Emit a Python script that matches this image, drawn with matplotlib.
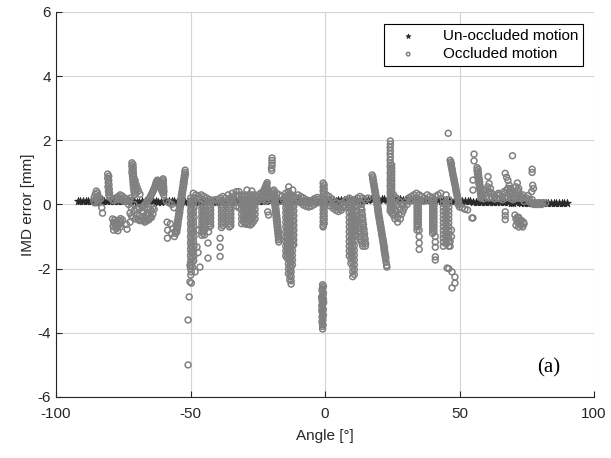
import matplotlib
matplotlib.use("Agg")
import matplotlib.pyplot as plt

plt.rcParams['font.family'] = ['Liberation Sans', 'DejaVu Sans']
plt.rcParams['axes.unicode_minus'] = False

# un-occluded motion, one sample per degree
unocc_angle = [-92, -91, -90, -89, -88, -87, -86, -85, -84, -83, -82, -81, -80,
               -79, -78, -77, -76, -75, -74, -73, -72, -71, -70, -69, -68, -67, -66, -65, -64, -63, -62, -61, -60,
               -59, -58, -57, -56, -55, -54, -53, -52, -51, -50, -49, -48, -47, -46, -45, -44, -43, -42, -41, -40,
               -39, -38, -37, -36, -35, -34, -33, -32, -31, -30, -29, -28, -27, -26, -25, -24, -23, -22, -21, -20,
               -19, -18, -17, -16, -15, -14, -13, -12, -11, -10, -9, -8, -7, -6, -5, -4, -3, -2, -1, 0,
               1, 2, 3, 4, 5, 6, 7, 8, 9, 10, 11, 12, 13, 14, 15, 16, 17, 18, 19, 20,
               21, 22, 23, 24, 25, 26, 27, 28, 29, 30, 31, 32, 33, 34, 35, 36, 37, 38, 39, 40,
               41, 42, 43, 44, 45, 46, 47, 48, 49, 50, 51, 52, 53, 54, 55, 56, 57, 58, 59, 60,
               61, 62, 63, 64, 65, 66, 67, 68, 69, 70, 71, 72, 73, 74, 75, 76, 77, 78, 79, 80,
               81, 82, 83, 84, 85, 86, 87, 88, 89, 90]
unocc_err = [0.12, 0.11, 0.11, 0.12, 0.12, 0.11, 0.10, 0.11, 0.11, 0.12, 0.12, 0.11, 0.10,
             0.11, 0.11, 0.10, 0.11, 0.12, 0.11, 0.11, 0.10, 0.10, 0.09, 0.09, 0.10, 0.10, 0.11, 0.11, 0.10, 0.10, 0.09, 0.09, 0.10,
             0.10, 0.11, 0.11, 0.10, 0.09, 0.09, 0.10, 0.09, 0.08, 0.09, 0.10, 0.10, 0.09, 0.10, 0.11, 0.11, 0.10, 0.10, 0.09, 0.09,
             0.10, 0.10, 0.11, 0.11, 0.12, 0.11, 0.10, 0.10, 0.11, 0.12, 0.13, 0.13, 0.12, 0.11, 0.11, 0.11, 0.12, 0.12, 0.13, 0.13,
             0.12, 0.12, 0.13, 0.13, 0.12, 0.12, 0.11, 0.11, 0.12, 0.11, 0.10, 0.10, 0.11, 0.11, 0.12, 0.12, 0.11, 0.10, 0.10, 0.10,
             0.11, 0.11, 0.12, 0.12, 0.13, 0.13, 0.14, 0.14, 0.13, 0.14, 0.15, 0.15, 0.14, 0.14, 0.15, 0.15, 0.16, 0.16, 0.15, 0.15,
             0.16, 0.16, 0.15, 0.16, 0.17, 0.17, 0.16, 0.16, 0.15, 0.15, 0.16, 0.16, 0.15, 0.15, 0.14, 0.14, 0.15, 0.15, 0.14, 0.14,
             0.13, 0.13, 0.12, 0.12, 0.13, 0.12, 0.11, 0.11, 0.10, 0.10, 0.11, 0.11, 0.10, 0.10, 0.09, 0.09, 0.08, 0.08, 0.09, 0.09,
             0.08, 0.08, 0.07, 0.07, 0.08, 0.08, 0.07, 0.07, 0.06, 0.06, 0.07, 0.07, 0.06, 0.06, 0.05, 0.05, 0.06, 0.06, 0.05, 0.05,
             0.05, 0.05, 0.04, 0.04, 0.05, 0.05, 0.04, 0.04, 0.04, 0.04]

# occluded motion (angle, error) split by angle range
occ_far_left = [
    (-86.0, 0.10), (-85.8, 0.22), (-85.4, 0.32), (-85.0, 0.42), (-84.6, 0.36), (-84.3, 0.26),
    (-84.0, 0.15), (-84.8, 0.12), (-83.4, 0.18), (-85.2, 0.18), (-84.4, 0.05), (-85.6, 0.05),
    (-83.0, -0.10), (-82.7, -0.27),
    (-80.8, 0.95), (-80.8, 0.82), (-80.6, 0.68), (-80.7, 0.55), (-80.5, 0.42), (-80.4, 0.30), (-80.0, 0.22),
    (-80.4, 0.88), (-80.4, 0.75), (-80.3, 0.62), (-80.2, 0.48), (-80.1, 0.36),
    (-79.0, 0.15), (-78.0, 0.20), (-77.0, 0.24), (-76.2, 0.30), (-75.5, 0.27), (-74.8, 0.22),
    (-74.0, 0.18), (-73.0, 0.14), (-72.4, 0.20), (-78.5, 0.12), (-77.5, 0.15), (-76.7, 0.18),
    (-75.8, 0.15), (-75.0, 0.12), (-74.4, 0.10), (-73.5, 0.10),
    (-71.8, 1.30), (-71.8, 1.20), (-71.7, 1.10), (-71.8, 1.00), (-71.6, 0.90), (-71.5, 0.80),
    (-71.4, 0.70), (-71.3, 0.60), (-71.2, 0.50), (-71.0, 0.40), (-70.8, 0.30), (-70.6, 0.75),
    (-70.2, 0.62), (-69.8, 0.52), (-69.3, 0.42), (-68.8, 0.32),
    (-71.4, 1.25), (-71.3, 1.15), (-71.3, 1.05), (-71.2, 0.95), (-71.1, 0.85), (-71.0, 0.75),
    (-70.9, 0.65), (-70.7, 0.55), (-70.5, 0.45), (-70.3, 0.35),
    (-79.0, -0.45), (-78.6, -0.56), (-78.2, -0.48), (-78.0, -0.66), (-77.6, -0.76), (-77.0, -0.82),
    (-77.0, -0.62), (-76.5, -0.50), (-76.0, -0.44), (-76.1, -0.70), (-75.3, -0.48), (-73.8, -0.62),
    (-73.6, -0.77), (-78.6, -0.80), (-78.3, -0.60), (-77.8, -0.55), (-77.3, -0.70), (-76.8, -0.60),
    (-76.4, -0.62), (-75.8, -0.55), (-78.8, -0.68),
    (-73.0, 0.00), (-72.0, -0.10), (-71.0, -0.20), (-70.0, -0.30), (-69.0, -0.36), (-68.0, -0.40),
    (-67.0, -0.43), (-66.0, -0.46), (-65.0, -0.40), (-64.0, -0.30), (-72.5, -0.27), (-72.5, -0.55),
    (-70.0, -0.14), (-68.0, -0.20), (-66.0, -0.26), (-65.0, -0.15), (-64.0, -0.10), (-67.0, -0.55),
    (-69.0, -0.50), (-71.5, -0.40), (-70.5, -0.45), (-69.5, -0.45), (-68.5, -0.50), (-67.5, -0.50),
    (-66.5, -0.52), (-65.5, -0.48), (-64.5, -0.40), (-72.0, -0.35), (-71.0, 0.00), (-69.0, -0.10),
    (-67.5, -0.25), (-66.5, -0.35), (-65.5, -0.30), (-64.5, -0.20), (-63.5, -0.15),
    (-68.0, -0.10), (-67.0, 0.00), (-66.0, 0.10), (-65.2, 0.20), (-64.6, 0.30), (-64.0, 0.40),
    (-63.5, 0.50), (-63.0, 0.60), (-62.7, 0.70), (-62.3, 0.76), (-61.8, 0.65), (-61.2, 0.52),
    (-60.6, 0.42), (-60.0, 0.30), (-67.5, -0.05), (-66.5, 0.05), (-65.6, 0.15), (-64.9, 0.25),
    (-64.3, 0.35), (-63.8, 0.45), (-63.3, 0.55), (-62.9, 0.65), (-62.5, 0.73), (-62.0, 0.70),
    (-61.5, 0.58), (-60.9, 0.47), (-60.3, 0.36),
    (-60.2, 0.80), (-60.2, 0.70), (-60.1, 0.60), (-60.0, 0.50), (-59.9, 0.40), (-60.1, 0.75),
    (-60.1, 0.65), (-60.0, 0.55), (-60.0, 0.45),
    (-59.0, 0.10), (-58.0, 0.05), (-57.0, 0.00), (-56.2, -0.10),
    (-58.7, -0.55), (-58.5, -0.80), (-58.6, -1.05), (-57.5, -0.60), (-57.0, -0.90), (-56.5, -0.75),
    (-56.0, -1.00), (-55.7, -0.85),
    (-55.5, -0.90), (-55.3, -0.80), (-55.1, -0.70), (-55.0, -0.60), (-54.8, -0.50), (-54.6, -0.40),
    (-54.4, -0.30), (-54.3, -0.20), (-54.1, -0.10), (-53.9, 0.00), (-53.7, 0.10), (-53.5, 0.20),
    (-53.4, 0.30), (-53.2, 0.40), (-53.0, 0.50), (-52.8, 0.60), (-52.7, 0.70), (-52.5, 0.80),
    (-52.3, 0.90), (-52.1, 1.00), (-52.0, 1.07),
    (-55.1, -0.85), (-54.9, -0.75), (-54.7, -0.65), (-54.6, -0.55), (-54.4, -0.45), (-54.2, -0.35),
    (-54.0, -0.25), (-53.9, -0.15), (-53.7, -0.05), (-53.5, 0.05), (-53.3, 0.15), (-53.1, 0.25),
    (-53.0, 0.35), (-52.8, 0.45), (-52.6, 0.55), (-52.4, 0.65), (-52.3, 0.75), (-52.1, 0.85),
    (-51.9, 0.95),
    (-50.0, 0.20), (-49.8, 0.10), (-50.0, 0.00), (-49.8, -0.10), (-50.0, -0.20), (-49.8, -0.30),
    (-50.0, -0.40), (-49.8, -0.50), (-50.0, -0.60), (-49.8, -0.70), (-50.0, -0.80), (-49.8, -0.90),
    (-50.0, -1.00), (-49.8, -1.10), (-50.0, -1.20), (-49.8, -1.30), (-50.0, -1.40), (-49.8, -1.50),
    (-50.0, -1.60), (-49.8, -1.70), (-50.0, -1.80), (-49.8, -1.90), (-50.0, -2.00), (-49.7, -2.10),
    (-49.9, -2.20),
    (-49.3, 0.15), (-49.3, 0.00), (-49.3, -0.15), (-49.3, -0.30), (-49.3, -0.45), (-49.3, -0.60),
    (-49.3, -0.75), (-49.3, -0.90), (-49.3, -1.05), (-49.3, -1.20), (-49.3, -1.35), (-49.3, -1.50),
    (-49.3, -1.65), (-49.3, -1.80), (-49.3, -1.95),
    (-48.8, 0.20), (-48.9, 0.05), (-48.7, -0.10), (-48.9, -0.25), (-48.7, -0.40), (-48.9, -0.55),
    (-48.7, -0.70), (-48.9, -0.85), (-48.7, -1.00), (-48.9, -1.15), (-48.7, -1.30), (-48.9, -1.45),
    (-48.7, -1.60), (-48.8, -1.75),
    (-49.7, -2.45), (-48.3, -2.10), (-46.5, -1.95), (-50.2, -1.90), (-50.2, -2.41), (-50.5, -2.88),
    (-50.9, -3.60), (-50.9, -5.00), (-47.2, -0.80), (-47.6, -1.32), (-47.2, -1.50),
]

occ_mid_left = [
    (-49.0, 0.35), (-48.0, 0.30), (-47.0, 0.26), (-46.0, 0.30), (-45.0, 0.25), (-44.0, 0.20),
    (-43.0, 0.16), (-42.0, 0.12), (-41.0, 0.15), (-48.5, 0.20), (-47.5, 0.18), (-46.5, 0.20),
    (-45.5, 0.15), (-44.5, 0.12), (-43.5, 0.10), (-42.5, 0.08),
    (-45.8, 0.00), (-45.8, -0.12), (-45.8, -0.24), (-45.8, -0.36), (-45.8, -0.48), (-45.8, -0.60),
    (-45.8, -0.72), (-45.8, -0.84), (-45.8, -0.96),
    (-45.3, -0.06), (-45.3, -0.18), (-45.3, -0.30), (-45.3, -0.42), (-45.3, -0.54), (-45.3, -0.66),
    (-45.3, -0.78), (-45.3, -0.90),
    (-44.8, -0.05), (-44.8, -0.20), (-44.8, -0.35), (-44.8, -0.50), (-44.8, -0.65), (-44.8, -0.80),
    (-44.8, -0.95),
    (-43.0, 0.00), (-43.0, -0.12), (-43.0, -0.24), (-43.0, -0.36), (-43.0, -0.48), (-43.0, -0.60),
    (-43.0, -0.70), (-42.5, -0.06), (-42.5, -0.18), (-42.5, -0.30), (-42.5, -0.42), (-42.5, -0.54),
    (-42.5, -0.66), (-43.3, -0.85), (-43.5, -1.20), (-43.5, -1.67),
    (-38.5, 0.00), (-38.5, -0.12), (-38.5, -0.24), (-38.5, -0.36), (-38.5, -0.48), (-38.5, -0.60),
    (-38.5, -0.72), (-38.0, -0.06), (-38.0, -0.18), (-38.0, -0.30), (-38.0, -0.42), (-38.0, -0.54),
    (-38.0, -0.66), (-39.0, -1.05), (-39.0, -1.33), (-39.0, -1.62),
    (-35.5, 0.00), (-35.5, -0.12), (-35.5, -0.24), (-35.5, -0.36), (-35.5, -0.48), (-35.5, -0.60),
    (-35.5, -0.70), (-35.0, -0.06), (-35.0, -0.18), (-35.0, -0.30), (-35.0, -0.42), (-35.0, -0.54),
    (-35.0, -0.66),
    (-40.0, 0.15), (-39.0, 0.20), (-38.0, 0.25), (-37.0, 0.20), (-36.0, 0.15), (-35.0, 0.20),
    (-34.0, 0.25), (-33.0, 0.30), (-32.0, 0.28), (-37.0, 0.05), (-34.0, 0.05), (-33.0, -0.05),
    (-32.0, -0.10), (-39.5, 0.05), (-38.5, 0.12), (-37.5, 0.10), (-36.5, 0.05), (-35.5, 0.10),
    (-34.5, 0.15), (-33.5, 0.15), (-32.5, 0.10), (-36.0, 0.30), (-34.5, 0.35), (-33.0, 0.40),
    (-32.0, 0.40),
    (-31.0, 0.30), (-31.0, 0.15), (-31.0, 0.00), (-31.0, -0.15), (-31.0, -0.30), (-31.0, -0.45), (-31.0, -0.60),
    (-29.8, 0.30), (-29.8, 0.15), (-29.8, 0.00), (-29.8, -0.15), (-29.8, -0.30), (-29.8, -0.45), (-29.8, -0.60),
    (-28.5, 0.30), (-28.5, 0.15), (-28.5, 0.00), (-28.5, -0.15), (-28.5, -0.30), (-28.5, -0.45), (-28.5, -0.60),
    (-27.2, 0.30), (-27.2, 0.15), (-27.2, 0.00), (-27.2, -0.15), (-27.2, -0.30), (-27.2, -0.45), (-27.2, -0.60),
    (-26.0, 0.30), (-26.0, 0.15), (-26.0, 0.00), (-26.0, -0.15), (-26.0, -0.30), (-26.0, -0.45),
    (-30.4, 0.22), (-30.4, 0.07), (-30.4, -0.08), (-30.4, -0.23), (-30.4, -0.38), (-30.4, -0.53),
    (-29.1, 0.22), (-29.1, 0.07), (-29.1, -0.08), (-29.1, -0.23), (-29.1, -0.38), (-29.1, -0.53),
    (-27.8, 0.22), (-27.8, 0.07), (-27.8, -0.08), (-27.8, -0.23), (-27.8, -0.38), (-27.8, -0.53),
    (-26.6, 0.22), (-26.6, 0.07), (-26.6, -0.08), (-26.6, -0.23), (-26.6, -0.38), (-26.6, -0.53),
    (-29.0, -0.62), (-27.8, -0.64), (-29.0, 0.45), (-27.2, 0.42), (-26.0, 0.26), (-25.5, 0.22),
    (-25.0, 0.10), (-24.3, 0.20), (-23.6, 0.30), (-23.0, 0.40), (-22.4, 0.50), (-21.9, 0.60), (-21.5, 0.68),
    (-24.6, 0.15), (-23.9, 0.25), (-23.3, 0.35), (-22.7, 0.45), (-22.1, 0.55), (-21.7, 0.63),
    (-21.6, 0.55), (-21.6, 0.42), (-21.6, 0.28), (-21.6, 0.15), (-21.4, 0.48), (-21.4, 0.35), (-21.4, 0.22),
    (-21.3, -0.23), (-21.0, -0.33),
    (-19.7, 1.45), (-19.7, 1.37), (-19.7, 1.29), (-19.7, 1.21), (-19.9, 1.13), (-19.8, 1.06),
    (-19.2, 0.40), (-19.07, 0.30), (-18.94, 0.20), (-18.8, 0.10), (-18.7, 0.00), (-18.56, -0.10),
    (-18.43, -0.20), (-18.3, -0.30), (-18.18, -0.40), (-18.05, -0.50), (-17.92, -0.60), (-17.8, -0.70),
    (-17.67, -0.80), (-17.54, -0.90), (-17.4, -1.00), (-17.3, -1.10), (-17.2, -1.17),
    (-18.85, 0.35), (-18.72, 0.25), (-18.59, 0.15), (-18.45, 0.05), (-18.35, -0.05), (-18.21, -0.15),
    (-18.08, -0.25), (-17.95, -0.35), (-17.83, -0.45), (-17.7, -0.55), (-17.57, -0.65), (-17.45, -0.75),
    (-17.32, -0.85), (-17.19, -0.95), (-17.05, -1.05),
    (-24.0, 0.35), (-22.5, 0.30), (-20.5, 0.35), (-19.0, 0.45), (-18.0, 0.35), (-17.0, 0.30), (-16.0, 0.25),
    (-23.0, 0.15), (-22.0, 0.10), (-20.0, 0.15), (-19.5, 0.25), (-16.5, 0.10), (-15.5, 0.15),
]

occ_center = [
    (-14.6, 0.35), (-14.6, 0.20), (-14.6, 0.05), (-14.6, -0.10), (-14.6, -0.25), (-14.6, -0.40),
    (-14.6, -0.55), (-14.6, -0.70), (-14.6, -0.85), (-14.6, -1.00), (-14.6, -1.15), (-14.6, -1.30),
    (-14.6, -1.45), (-14.6, -1.60),
    (-14.1, 0.28), (-14.1, 0.13), (-14.1, -0.02), (-14.1, -0.17), (-14.1, -0.32), (-14.1, -0.47),
    (-14.1, -0.62), (-14.1, -0.77), (-14.1, -0.92), (-14.1, -1.07), (-14.1, -1.22), (-14.1, -1.37),
    (-14.1, -1.52), (-14.1, -1.67),
    (-13.6, 0.40), (-13.6, 0.25), (-13.6, 0.10), (-13.6, -0.05), (-13.6, -0.20), (-13.6, -0.35),
    (-13.6, -0.50), (-13.6, -0.65), (-13.6, -0.80), (-13.6, -0.95), (-13.6, -1.10), (-13.6, -1.25),
    (-13.6, -1.40), (-13.6, -1.55), (-13.6, -1.70), (-13.6, -1.85), (-13.6, -2.00), (-13.6, -2.15),
    (-13.1, 0.33), (-13.1, 0.18), (-13.1, 0.03), (-13.1, -0.12), (-13.1, -0.27), (-13.1, -0.42),
    (-13.1, -0.57), (-13.1, -0.72), (-13.1, -0.87), (-13.1, -1.02), (-13.1, -1.17), (-13.1, -1.32),
    (-13.1, -1.47), (-13.1, -1.62), (-13.1, -1.77), (-13.1, -1.92), (-13.1, -2.07), (-13.1, -2.22),
    (-13.1, -2.35),
    (-12.6, 0.30), (-12.6, 0.15), (-12.6, 0.00), (-12.6, -0.15), (-12.6, -0.30), (-12.6, -0.45),
    (-12.6, -0.60), (-12.6, -0.75), (-12.6, -0.90), (-12.6, -1.05), (-12.6, -1.20), (-12.6, -1.35),
    (-12.6, -1.50), (-12.6, -1.65), (-12.6, -1.80), (-12.6, -1.95), (-12.6, -2.10), (-12.6, -2.25),
    (-12.6, -2.38), (-12.6, -2.48),
    (-12.1, 0.22), (-12.1, 0.07), (-12.1, -0.08), (-12.1, -0.23), (-12.1, -0.38), (-12.1, -0.53),
    (-12.1, -0.68), (-12.1, -0.83), (-12.1, -0.98), (-12.1, -1.13), (-12.1, -1.28), (-12.1, -1.43),
    (-12.1, -1.58), (-12.1, -1.73), (-12.1, -1.88),
    (-11.6, 0.25), (-11.6, 0.10), (-11.6, -0.05), (-11.6, -0.20), (-11.6, -0.35), (-11.6, -0.50),
    (-11.6, -0.65), (-11.6, -0.80), (-11.6, -0.95), (-11.6, -1.10), (-11.6, -1.25),
    (-13.5, 0.55), (-12.0, 0.45),
    (-10.0, 0.30), (-9.0, 0.25), (-8.0, 0.20), (-7.0, 0.15), (-6.0, 0.10), (-5.0, 0.12), (-4.0, 0.18),
    (-3.0, 0.22), (-2.0, 0.18), (-10.0, 0.10), (-9.0, 0.05), (-8.0, -0.02), (-7.0, -0.06),
    (-6.0, -0.08), (-5.0, -0.05), (-4.0, 0.00), (-3.0, 0.05),
    (-9.5, 0.15), (-8.5, 0.10), (-7.5, 0.05), (-6.5, 0.02), (-5.5, 0.03), (-4.5, 0.08), (-3.5, 0.12),
    (-2.5, 0.10), (-1.5, 0.12), (-10.0, 0.20),
    (-0.7, 0.67), (-0.7, 0.55), (-0.7, 0.43), (-0.7, 0.31), (-0.7, 0.19), (-0.7, 0.07), (-0.7, -0.05),
    (-0.7, -0.17), (-0.7, -0.29), (-0.7, -0.41), (-0.7, -0.53), (-0.7, -0.65), (-0.7, -0.70),
    (-0.3, 0.61), (-0.3, 0.49), (-0.3, 0.37), (-0.3, 0.25), (-0.3, 0.13), (-0.3, 0.01), (-0.3, -0.11),
    (-0.3, -0.23), (-0.3, -0.35), (-0.3, -0.47), (-0.3, -0.59),
    (-0.9, -2.50), (-0.8, -2.60), (-1.0, -2.70), (-0.7, -2.80), (-0.9, -2.90), (-1.1, -3.00),
    (-0.8, -3.10), (-1.0, -3.20), (-0.7, -3.30), (-0.9, -3.40), (-1.1, -3.50), (-0.8, -3.60),
    (-1.0, -3.70), (-0.9, -3.80), (-0.9, -3.88), (-1.3, -2.90), (-0.5, -3.05), (-1.2, -3.30),
    (-0.6, -2.55), (-1.1, -2.65), (-0.6, -2.75), (-1.0, -2.85), (-0.6, -2.95), (-0.9, -3.05),
    (-1.2, -3.15), (-0.7, -3.25), (-1.0, -3.35), (-0.6, -3.45), (-0.9, -3.55), (-1.1, -3.65),
    (-0.7, -3.75),
    (0.5, 0.30), (1.5, 0.25), (2.5, 0.18), (3.5, 0.10), (4.5, 0.05), (5.5, 0.00), (6.5, 0.05),
    (7.5, 0.10), (1.0, 0.05), (2.0, -0.05), (3.0, -0.12), (4.0, -0.18), (5.0, -0.22), (6.0, -0.18),
    (7.0, -0.10), (0.0, 0.15), (1.5, 0.10), (2.5, 0.02), (3.5, -0.05), (4.5, -0.10), (5.5, -0.12),
    (6.5, -0.08), (7.5, -0.02), (8.0, 0.15),
    (9.0, 0.20), (9.0, 0.05), (9.0, -0.10), (9.0, -0.25), (9.0, -0.40), (9.0, -0.55), (9.0, -0.70),
    (9.0, -0.85), (9.0, -1.00), (9.0, -1.15), (9.0, -1.30), (9.0, -1.45), (9.0, -1.60),
    (9.6, 0.12), (9.6, -0.03), (9.6, -0.18), (9.6, -0.33), (9.6, -0.48), (9.6, -0.63), (9.6, -0.78),
    (9.6, -0.93), (9.6, -1.08), (9.6, -1.23), (9.6, -1.38), (9.6, -1.53), (9.6, -1.68), (9.6, -1.83),
    (10.3, 0.15), (10.3, 0.00), (10.3, -0.15), (10.3, -0.30), (10.3, -0.45), (10.3, -0.60),
    (10.3, -0.75), (10.3, -0.90), (10.3, -1.05), (10.3, -1.20), (10.3, -1.35), (10.3, -1.50),
    (10.3, -1.65), (10.3, -1.80), (10.3, -1.95), (10.3, -2.10), (10.3, -2.25),
    (10.9, 0.07), (10.9, -0.08), (10.9, -0.23), (10.9, -0.38), (10.9, -0.53), (10.9, -0.68),
    (10.9, -0.83), (10.9, -0.98), (10.9, -1.13), (10.9, -1.28), (10.9, -1.43), (10.9, -1.58),
    (10.9, -1.73), (10.9, -1.88), (10.9, -2.03), (10.9, -2.18),
    (11.5, 0.10), (11.5, -0.05), (11.5, -0.20), (11.5, -0.35), (11.5, -0.50), (11.5, -0.65),
    (11.5, -0.80), (11.5, -0.95),
    (12.0, -0.45), (12.5, -0.65), (13.0, -0.85), (13.0, -1.00), (13.5, -1.15), (14.0, -1.30),
    (12.2, -0.55), (12.7, -0.75), (13.2, -0.92), (13.3, -1.08), (13.8, -1.22),
    (13.2, 0.05), (13.4, -0.10), (13.6, -0.25), (13.8, -0.40), (14.0, -0.55), (14.2, -0.70),
    (14.4, -0.85), (14.6, -1.00), (14.8, -1.15), (15.0, -1.30),
    (13.5, 0.00), (13.7, -0.17), (13.9, -0.32), (14.1, -0.47), (14.3, -0.62), (14.5, -0.77),
    (14.7, -0.92), (14.9, -1.07), (15.1, -1.22),
    (12.0, 0.20), (13.0, 0.25), (14.0, 0.20), (15.0, 0.15), (16.0, 0.20),
]

occ_mid_right = [
    (17.5, 0.92), (17.7, 0.80), (17.9, 0.70), (18.1, 0.60), (18.3, 0.50), (18.5, 0.40), (18.7, 0.30),
    (18.9, 0.20), (19.1, 0.10), (19.3, 0.00), (19.5, -0.10), (19.6, -0.20), (19.8, -0.30),
    (20.0, -0.40), (20.2, -0.50), (20.4, -0.60), (20.6, -0.70), (20.8, -0.80), (21.0, -0.90),
    (21.2, -1.00), (21.4, -1.10), (21.6, -1.20), (21.8, -1.30), (21.9, -1.40), (22.1, -1.50),
    (22.3, -1.60), (22.5, -1.70), (22.7, -1.80), (22.9, -1.90), (23.0, -1.95),
    (17.8, 0.86), (18.0, 0.75), (18.2, 0.65), (18.4, 0.55), (18.6, 0.45), (18.8, 0.35), (19.0, 0.25),
    (19.2, 0.15), (19.4, 0.05), (19.6, -0.05), (19.8, -0.15), (19.9, -0.25), (20.1, -0.35),
    (20.3, -0.45), (20.5, -0.55), (20.7, -0.65), (20.9, -0.75), (21.1, -0.85), (21.3, -0.95),
    (21.5, -1.05), (21.7, -1.15), (21.9, -1.25), (22.1, -1.35), (22.2, -1.45), (22.4, -1.55),
    (22.6, -1.65),
    (24.3, 1.98), (24.3, 1.88), (24.2, 1.78), (24.3, 1.68), (24.2, 1.58), (24.3, 1.48), (24.2, 1.38),
    (24.3, 1.28), (24.2, 1.18), (24.3, 1.08), (24.2, 0.98), (24.3, 0.88), (24.2, 0.78), (24.3, 0.68),
    (24.2, 0.58), (24.3, 0.48), (24.2, 0.38), (24.3, 0.28), (24.2, 0.18), (24.3, 0.08),
    (24.2, -0.02), (24.3, -0.12), (24.2, -0.20),
    (24.8, 1.23), (24.8, 1.13), (24.8, 1.03), (24.8, 0.93), (24.8, 0.83), (24.8, 0.73), (24.8, 0.63),
    (24.8, 0.53), (24.8, 0.43), (24.8, 0.33), (24.8, 0.23), (24.8, 0.13), (24.8, 0.03), (24.8, -0.07),
    (24.8, -0.17), (24.8, -0.27),
    (25.5, 0.30), (26.5, 0.20), (27.5, 0.10), (28.5, 0.00), (25.5, -0.10), (26.5, -0.20),
    (27.5, -0.30), (28.0, -0.45), (26.0, -0.45), (27.0, -0.55), (29.0, -0.20), (30.0, 0.10),
    (31.0, 0.20), (32.0, 0.25), (33.0, 0.30), (34.0, 0.35), (35.0, 0.30), (36.0, 0.25),
    (37.0, 0.20), (38.0, 0.30), (39.0, 0.25),
    (25.0, 0.10), (26.0, 0.05), (27.0, 0.00), (28.0, -0.15), (29.0, 0.00), (26.0, -0.30),
    (27.0, -0.40), (28.5, -0.30), (25.5, -0.35), (29.5, -0.10), (30.5, 0.00), (31.5, 0.10),
    (32.5, 0.15), (33.5, 0.20), (35.5, 0.15), (36.5, 0.10), (37.5, 0.12), (38.5, 0.15),
    (34.2, 0.20), (34.2, 0.10), (34.2, 0.00), (34.2, -0.10), (34.2, -0.20), (34.2, -0.30),
    (34.2, -0.40), (34.2, -0.50), (34.2, -0.60), (34.2, -0.70), (34.2, -0.80),
    (34.7, 0.15), (34.7, 0.05), (34.7, -0.05), (34.7, -0.15), (34.7, -0.25), (34.7, -0.35),
    (34.7, -0.45), (34.7, -0.55), (34.7, -0.65),
    (35.0, -0.80), (35.0, -1.00), (35.0, -1.20), (35.0, -1.40),
    (40.0, 0.20), (40.0, 0.10), (40.0, 0.00), (40.0, -0.10), (40.0, -0.20), (40.0, -0.30),
    (40.0, -0.40), (40.0, -0.50), (40.0, -0.60), (40.0, -0.70), (40.0, -0.80), (40.0, -0.90),
    (40.5, 0.15), (40.5, 0.05), (40.5, -0.05), (40.5, -0.15), (40.5, -0.25), (40.5, -0.35),
    (40.5, -0.45), (40.5, -0.55), (40.5, -0.65), (40.5, -0.75), (40.5, -0.85),
    (41.0, -1.00), (41.0, -1.17), (41.0, -1.33), (41.0, -1.63), (41.0, -1.73),
    (44.0, 0.15), (44.0, 0.03), (44.0, -0.09), (44.0, -0.21), (44.0, -0.33), (44.0, -0.45),
    (44.0, -0.57), (44.0, -0.69), (44.0, -0.81), (44.0, -0.93), (44.0, -1.05), (44.0, -1.17),
    (44.0, -1.30),
    (45.0, 0.09), (45.0, -0.03), (45.0, -0.15), (45.0, -0.27), (45.0, -0.39), (45.0, -0.51),
    (45.0, -0.63), (45.0, -0.75), (45.0, -0.87), (45.0, -0.99), (45.0, -1.11), (45.0, -1.23),
    (46.0, 0.15), (46.0, 0.03), (46.0, -0.09), (46.0, -0.21), (46.0, -0.33), (46.0, -0.45),
    (46.0, -0.57), (46.0, -0.69), (46.0, -0.81), (46.0, -0.93), (46.0, -1.05), (46.0, -1.17),
    (46.0, -1.30),
    (46.5, -1.30), (46.5, -1.15), (47.0, -1.00), (47.0, -0.80),
    (45.4, -1.98), (47.2, -2.10), (48.3, -2.26), (48.3, -2.45), (47.2, -2.60), (46.0, -2.00),
    (45.8, 2.22),
    (46.5, 1.38), (46.7, 1.30), (46.9, 1.20), (47.2, 1.10), (47.4, 1.00), (47.6, 0.90), (47.9, 0.80),
    (48.1, 0.70), (48.4, 0.60), (48.6, 0.50), (48.8, 0.40), (49.1, 0.30), (49.3, 0.20), (49.6, 0.10),
    (49.8, 0.00), (50.0, -0.08),
    (46.8, 1.32), (47.0, 1.25), (47.1, 1.15), (47.3, 1.05), (47.5, 0.95), (47.8, 0.85), (48.0, 0.75),
    (48.2, 0.65), (48.5, 0.55), (48.7, 0.45), (48.9, 0.35), (49.2, 0.25), (49.5, 0.15), (49.7, 0.05),
    (41.0, 0.25), (42.0, 0.30), (43.0, 0.35), (45.0, 0.30),
]

occ_far_right = [
    (51.0, -0.10), (52.0, -0.15), (53.0, -0.17), (54.6, -0.42), (49.5, 0.00),
    (55.4, 1.57), (55.4, 1.36), (55.0, 0.76), (55.0, 0.45), (55.0, -0.42),
    (56.5, 1.15), (56.5, 1.05), (56.7, 0.95), (56.8, 0.85), (57.0, 0.75), (57.2, 0.65), (57.4, 0.55),
    (57.6, 0.45), (57.8, 0.35), (58.0, 0.25),
    (56.9, 1.10), (57.0, 1.00), (57.1, 0.90), (57.3, 0.80), (57.5, 0.70), (57.6, 0.60), (57.8, 0.50),
    (58.0, 0.40), (58.2, 0.30),
    (60.6, 0.87), (61.0, 0.65), (61.5, 0.50),
    (58.5, 0.30), (59.5, 0.35), (60.0, 0.45), (61.0, 0.40), (62.0, 0.35), (62.5, 0.30), (63.0, 0.25),
    (64.0, 0.30), (64.5, 0.35), (65.0, 0.30), (66.0, 0.25), (67.0, 0.35), (67.5, 0.45), (68.0, 0.50),
    (68.5, 0.40), (69.0, 0.30), (70.0, 0.25), (70.5, 0.20), (71.0, 0.35), (71.5, 0.45), (72.0, 0.30),
    (73.0, 0.25), (74.0, 0.20), (75.0, 0.20), (76.0, 0.15), (77.0, 0.15),
    (59.0, 0.18), (61.0, 0.20), (63.0, 0.17), (65.0, 0.18), (67.0, 0.20), (69.0, 0.18), (71.0, 0.20),
    (73.0, 0.18), (58.0, 0.20), (60.0, 0.25), (62.0, 0.22), (64.0, 0.20), (66.0, 0.15), (68.0, 0.25),
    (70.0, 0.15), (72.0, 0.20), (74.0, 0.10), (76.0, 0.08), (59.0, 0.45), (60.5, 0.55), (66.5, 0.40),
    (69.5, 0.40), (71.0, 0.55), (73.5, 0.30), (75.5, 0.28),
    (69.7, 1.52), (67.0, 0.97), (67.5, 0.85), (68.0, 0.75), (68.5, 0.60), (69.0, 0.50), (71.5, 0.67),
    (72.0, 0.50), (72.0, 0.40), (77.0, 1.10), (77.0, 1.00), (77.2, 0.60), (77.5, 0.50), (76.8, 0.40),
    (67.0, -0.23), (67.0, -0.35), (67.0, -0.47), (70.6, -0.33), (71.0, -0.45), (71.5, -0.55),
    (72.0, -0.40), (72.5, -0.60), (73.0, -0.50), (73.5, -0.70), (74.0, -0.60), (71.0, -0.65),
    (72.0, -0.70), (71.5, -0.40), (72.5, -0.50), (73.0, -0.65), (73.8, -0.55), (72.2, -0.60),
    (77.0, 0.05), (78.0, 0.05), (79.0, 0.05), (80.0, 0.05), (81.0, 0.05),
    (77.5, 0.00), (78.5, 0.00), (79.5, 0.00), (80.5, 0.00), (82.0, 0.05),
]

occ_points = occ_far_left + occ_mid_left + occ_center + occ_mid_right + occ_far_right
occ_angle = [p[0] for p in occ_points]
occ_err = [p[1] for p in occ_points]

fig = plt.figure(figsize=(6.11, 4.58), dpi=100)
ax = fig.add_axes([0.0917, 0.1332, 0.8805, 0.8406])

ax.scatter(unocc_angle, unocc_err, marker='*', s=34, color='#2a2a2a', linewidths=0.6,
           label='Un-occluded motion', zorder=3)
ax.scatter(occ_angle, occ_err, marker='o', s=18, facecolors='none', edgecolors='#808080',
           linewidths=1.1, label='Occluded motion', zorder=4)

ax.set_xlim(-100, 100)
ax.set_ylim(-6, 6)
ax.set_xticks([-100, -50, 0, 50, 100])
ax.set_yticks([-6, -4, -2, 0, 2, 4, 6])
ax.grid(True, color='#d4d4d4', linewidth=0.8)
ax.set_axisbelow(True)
for side in ['top', 'right']:
    ax.spines[side].set_visible(False)
for side in ['left', 'bottom']:
    ax.spines[side].set_linewidth(0.8)
    ax.spines[side].set_color('#262626')
ax.tick_params(direction='in', length=4, width=0.8, labelsize=11, colors='#262626')
ax.tick_params(axis='x', pad=7)

ax.set_xlabel('Angle [°]', fontsize=11, color='#262626', labelpad=6)
ax.set_ylabel('IMD error [mm]', fontsize=11, color='#262626', labelpad=2)

ax.text(83, -5.1, '(a)', fontsize=15, family='Liberation Serif', ha='center', va='center')

leg = ax.legend(loc='upper right', bbox_to_anchor=(0.98, 0.969), borderaxespad=0,
                fontsize=11, fancybox=False, edgecolor='black', framealpha=1,
                markerscale=0.6, handlelength=2.6, handletextpad=1.0, borderpad=0.3,
                labelspacing=0.3)
leg.get_frame().set_linewidth(0.8)

fig.savefig('out.png', dpi=100)
